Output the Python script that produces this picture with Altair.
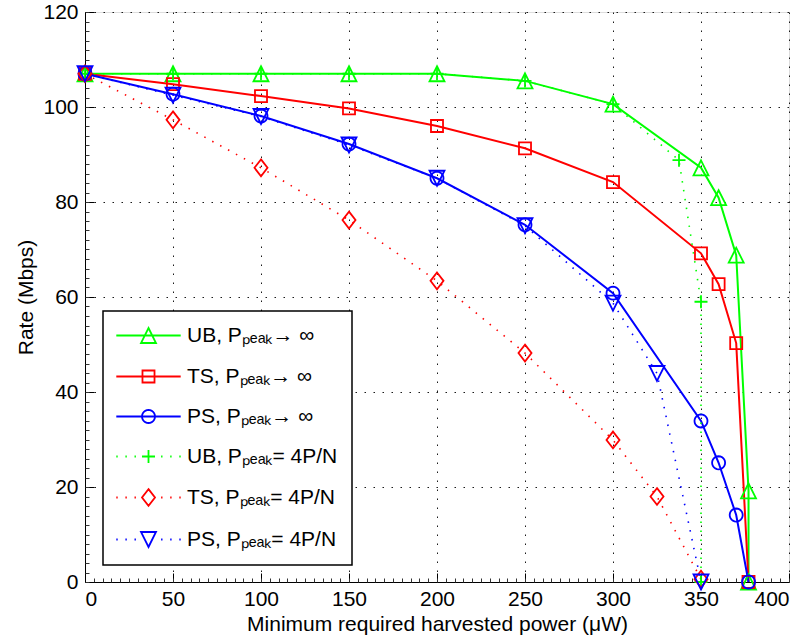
import altair as alt
import pandas as pd
import numpy as np

# ---------------- data ----------------
series = [
    "UB, Pₚₑₐₖ→ ∞",
    "TS, Pₚₑₐₖ→ ∞",
    "PS, Pₚₑₐₖ→ ∞",
    "UB, Pₚₑₐₖ= 4P/N",
    "TS, Pₚₑₐₖ= 4P/N",
    "PS, Pₚₑₐₖ= 4P/N",
]

ub_inf_x = [0, 50, 100, 150, 200, 250, 300, 350, 360, 370, 377, 377]
ub_inf_y = [107, 107, 107, 107, 107, 105.5, 100.6, 87.2, 80.9, 68.8, 19.2, 0]

ts_inf_x = [0, 50, 100, 150, 200, 250, 300, 350, 360, 370, 377]
ts_inf_y = [107, 104.8, 102.3, 99.7, 96, 91.3, 84.2, 69.2, 62.7, 50.3, 0]

ps_inf_x = [0, 50, 100, 150, 200, 250, 300, 350, 360, 370, 377]
ps_inf_y = [107, 102.7, 98.1, 92.2, 85, 75.2, 60.8, 33.9, 25.1, 14.1, 0]

ub_4p_x = [0, 50, 100, 150, 200, 250, 300, 337.5, 350, 350]
ub_4p_y = [107, 107, 107, 107, 107, 105.5, 100.6, 88.8, 59, 0]

ts_4p_x = [0, 50, 100, 150, 200, 250, 300, 325, 350]
ts_4p_y = [107, 97.3, 87.2, 76.2, 63.4, 48.2, 29.9, 18, 0.6]

ps_4p_x = [0, 50, 100, 150, 200, 250, 300, 325, 350]
ps_4p_y = [107, 102.5, 98, 92, 85, 75, 58.7, 43.9, 0]

x_major = [0, 50, 100, 150, 200, 250, 300, 350, 400]
y_major = [0, 20, 40, 60, 80, 100, 120]
x_minor = list(range(0, 401, 5))
y_minor = list(range(0, 121, 2))

colors = ["#00ff00", "#ff0000", "#0000ff", "#00ff00", "#ff0000", "#0000ff"]

# ---------------- table ----------------
xs = [ub_inf_x, ts_inf_x, ps_inf_x, ub_4p_x, ts_4p_x, ps_4p_x]
ys = [ub_inf_y, ts_inf_y, ps_inf_y, ub_4p_y, ts_4p_y, ps_4p_y]
rows = []
for k, (sx, sy) in enumerate(zip(xs, ys)):
    for i, (a, b) in enumerate(zip(sx, sy)):
        rows.append({"x": a, "y": b, "series": series[k], "sid": k, "idx": i})
df = pd.DataFrame(rows)

# ---------------- marker paths (unit coords, scaled by sqrt(size)/2) ----------------
ang = np.linspace(0, 2 * np.pi, 25)[:-1]
circ = "M" + "L".join(f"{0.93*np.cos(a):.3f},{0.93*np.sin(a):.3f}" for a in ang) + "Z"
tri_up = "M0,-1.07L1.07,1.07L-1.07,1.07Z"
square = "M-0.86,-0.86L0.86,-0.86L0.86,0.86L-0.86,0.86Z"
plus = "M-0.93,0L0.93,0M0,-0.93L0,0.93"
diamond = "M0,-1.2L0.93,0L0,1.2L-0.93,0Z"
tri_dn = "M0,1.07L1.07,-1.07L-1.07,-1.07Z"
markers = [tri_up, square, circ, plus, diamond, tri_dn]

solid_seg = "M-4.6,0L4.6,0"
dot_pos = [-4.6, -3.3, -2.0, 1.8, 3.1, 4.4]
dotted_seg = "".join(f"M{p},0L{p+0.2:.1f},0" for p in dot_pos)
legend_paths = [solid_seg + m for m in markers[:3]] + [dotted_seg + m for m in markers[3:]]

# ---------------- scales ----------------
xscale = alt.Scale(domain=[0, 400], nice=False, zero=False)
yscale = alt.Scale(domain=[0, 120], nice=False, zero=False)
cscale = alt.Scale(domain=series, range=colors)

FONT = "Liberation Sans"
FS = 21

main_x = alt.Axis(values=x_major, orient="bottom", grid=True, gridDash=[1.5, 7.5],
                  gridColor="#000000", gridWidth=0.9, ticks=False, tickSize=0,
                  domain=True, domainColor="#000000", domainWidth=1,
                  labelFontSize=FS, labelPadding=6, labelColor="#000000",
                  title="Minimum required harvested power (μW)", titleFontSize=FS,
                  titleFontWeight="normal", titlePadding=4, titleColor="#000000")
main_y = alt.Axis(values=y_major, orient="left", grid=True, gridDash=[1.5, 7.5],
                  gridColor="#000000", gridWidth=0.9, ticks=False, tickSize=0,
                  domain=True, domainColor="#000000", domainWidth=1,
                  labelFontSize=FS, labelPadding=7, labelColor="#000000",
                  title="Rate (Mbps)", titleFontSize=FS, titleFontWeight="normal",
                  titlePadding=6, titleColor="#000000")

tick_x = alt.Axis(values=x_major, orient="bottom", grid=False, domain=False, labels=False,
                  ticks=True, tickSize=9, offset=-9, tickColor="#000000", tickWidth=1, title=None)
tick_y = alt.Axis(values=y_major, orient="left", grid=False, domain=False, labels=False,
                  ticks=True, tickSize=9, offset=-9, tickColor="#000000", tickWidth=1, title=None)
minor_x = alt.Axis(values=x_minor, orient="bottom", grid=False, domain=False, labels=False,
                   ticks=True, tickSize=4, offset=-4, tickColor="#333333", tickWidth=1, title=None)
minor_y = alt.Axis(values=y_minor, orient="left", grid=False, domain=False, labels=False,
                   ticks=True, tickSize=4, offset=-4, tickColor="#333333", tickWidth=1, title=None)

base = alt.Chart(df)

solid = base.transform_filter(
    alt.FieldOneOfPredicate(field="series", oneOf=series[:3])
).mark_line(strokeWidth=2).encode(
    x=alt.X("x:Q", scale=xscale, axis=main_x),
    y=alt.Y("y:Q", scale=yscale, axis=main_y),
    color=alt.Color("series:N", scale=cscale, legend=None),
    order=alt.Order("idx:Q"),
)

dotted = base.transform_filter(
    alt.FieldOneOfPredicate(field="series", oneOf=series[3:])
).mark_line(strokeWidth=1.6, strokeDash=[1.5, 7.5]).encode(
    x=alt.X("x:Q", scale=xscale, axis=None),
    y=alt.Y("y:Q", scale=yscale, axis=None),
    color=alt.Color("series:N", scale=cscale, legend=None),
    order=alt.Order("idx:Q"),
)

points = base.mark_point(filled=False, size=196, strokeWidth=1.8, opacity=1).encode(
    x=alt.X("x:Q", scale=xscale, axis=tick_x),
    y=alt.Y("y:Q", scale=yscale, axis=tick_y),
    color=alt.Color("series:N", scale=cscale, legend=None),
    shape=alt.Shape("series:N", scale=alt.Scale(domain=series, range=markers), legend=None),
)

minor = base.transform_filter("false").mark_point(opacity=1).encode(
    x=alt.X("x:Q", scale=xscale, axis=minor_x),
    y=alt.Y("y:Q", scale=yscale, axis=minor_y),
)

leg = alt.Legend(orient="none", legendX=18, legendY=299, title=None,
                 labelFont=FONT, labelFontSize=FS, labelColor="#000000", labelLimit=500,
                 symbolSize=196, symbolStrokeWidth=1.8, symbolOffset=21, labelOffset=28,
                 rowPadding=18, padding=14, strokeColor="#000000", fillColor="#ffffff")

legend_layer = base.transform_filter("false").mark_point(filled=False, opacity=1, strokeWidth=1.8).encode(
    color=alt.Color("series:N", scale=cscale, legend=leg),
    shape=alt.Shape("series:N", scale=alt.Scale(domain=series, range=legend_paths), legend=leg),
)

chart = alt.layer(solid, dotted, points, minor, legend_layer).resolve_scale(
    color="independent", shape="independent"
).resolve_axis(
    x="independent", y="independent"
).properties(
    width=704, height=570,
    autosize=alt.AutoSizeParams(type="none"),
    padding={"left": 85, "top": 12, "right": 21, "bottom": 60},
).configure_view(stroke=None).configure(
    font=FONT
).configure_legend(strokeWidth=1.5)

chart.save("out.html", embed_options={"renderer": "svg", "actions": False})
